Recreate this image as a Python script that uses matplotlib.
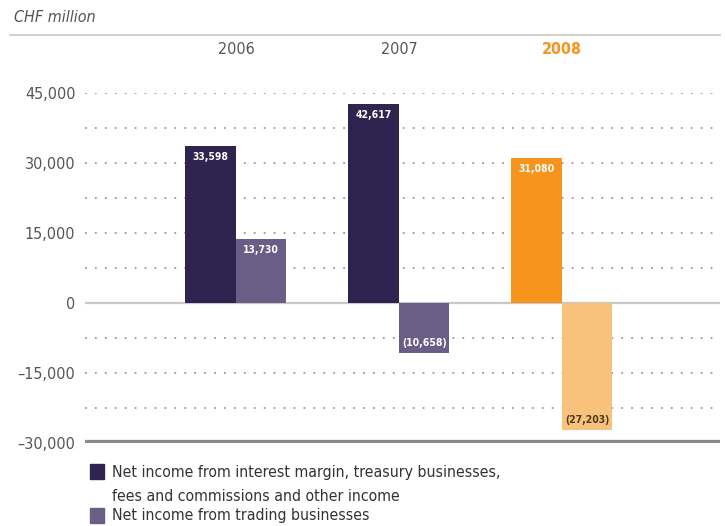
import numpy as np
import matplotlib.pyplot as plt
from matplotlib.lines import Line2D
from matplotlib.patches import Rectangle

plt.rcParams['font.family'] = ['DejaVu Sans']
plt.rcParams['font.stretch'] = 'condensed'

years = ['2006', '2007', '2008']
core_income = [33598, 42617, 31080]
trading_income = [13730, -10658, -27203]
core_labels = ['33,598', '42,617', '31,080']
trading_labels = ['13,730', '(10,658)', '(27,203)']
yticks = [45000, 30000, 15000, 0, -15000, -30000]
ytick_labels = ['45,000', '30,000', '15,000', '0', '\u201315,000', '\u201330,000']
legend_labels = ['Net income from interest margin, treasury businesses,',
                 'fees and commissions and other income',
                 'Net income from trading businesses']

dark = '#2f2350'
light = '#6b5e86'
orange = '#f7941d'
light_orange = '#f8c27c'
grey = '#555555'

fig = plt.figure(figsize=(7.25, 5.26), dpi=100)
ax = fig.add_axes([85/725, 1-443/526, 635/725, 350/526])

x = np.arange(len(years))
w = 0.31
c1 = [dark, dark, orange]
c2 = [light, light, light_orange]
ax.bar(x - w/2, core_income, w, color=c1, zorder=3)
ax.bar(x + w/2, trading_income, w, color=c2, zorder=3)

# labels inside bars
for i in range(len(years)):
    ax.text(x[i] - w/2, core_income[i] - 1200, core_labels[i], ha='center', va='top',
            color='white', fontsize=7.5, fontweight='bold', zorder=4)
    if trading_income[i] > 0:
        ax.text(x[i] + w/2, trading_income[i] - 1200, trading_labels[i], ha='center', va='top',
                color='white', fontsize=7.5, fontweight='bold', zorder=4)
    else:
        tc = 'white' if i < 2 else '#4a3a1a'
        ax.text(x[i] + w/2, trading_income[i] + 1000, trading_labels[i], ha='center', va='bottom',
                color=tc, fontsize=7.5, fontweight='bold', zorder=4)

# dotted grid
for g in np.arange(-22500, 45001, 7500):
    if g == 0:
        continue
    ax.axhline(g, color='#999999', linestyle=(0, (1, 4.5)), linewidth=1.3, zorder=1)
ax.axhline(0, color='#c8c8c8', linewidth=1.6, zorder=2)
ax.axhline(-30000, color='#8a8a8a', linewidth=4.5, zorder=2)

ax.set_xlim(-0.926, 2.97)
ax.set_ylim(-30000, 45000)
ax.set_yticks(yticks)
ax.set_yticklabels(ytick_labels, fontsize=11.5, color=grey)
ax.tick_params(axis='y', length=0, pad=7)
ax.set_xticks([])
for s in ax.spines.values():
    s.set_visible(False)
ax.set_facecolor('none')

# year headers
for i, yr in enumerate(years):
    if i == 2:
        ax.text(x[i], 1.123, yr, transform=ax.get_xaxis_transform(), ha='center', va='center',
                fontsize=11.5, color=orange, fontweight='bold')
    else:
        ax.text(x[i], 1.123, yr, transform=ax.get_xaxis_transform(), ha='center', va='center',
                fontsize=11.5, color=grey)

fig.text(14/725, 1-17/526, 'CHF million', fontsize=11.5, color=grey, style='italic', va='center')
fig.add_artist(Line2D([10/725, 720/725], [1-35/526, 1-35/526], color='#c8c8c8', linewidth=1.2))

# legend
fig.add_artist(Rectangle((90/725, 1-479/526), 14/725, 15/526, color=dark))
fig.text(112/725, 1-477/526, legend_labels[0], fontsize=11.3, color='#333333', va='baseline')
fig.text(112/725, 1-501/526, legend_labels[1], fontsize=11.3, color='#333333', va='baseline')
fig.add_artist(Rectangle((90/725, 1-523/526), 14/725, 15/526, color=light))
fig.text(112/725, 1-520/526, legend_labels[2], fontsize=11.3, color='#333333', va='baseline')

fig.savefig('out.png', dpi=100)
